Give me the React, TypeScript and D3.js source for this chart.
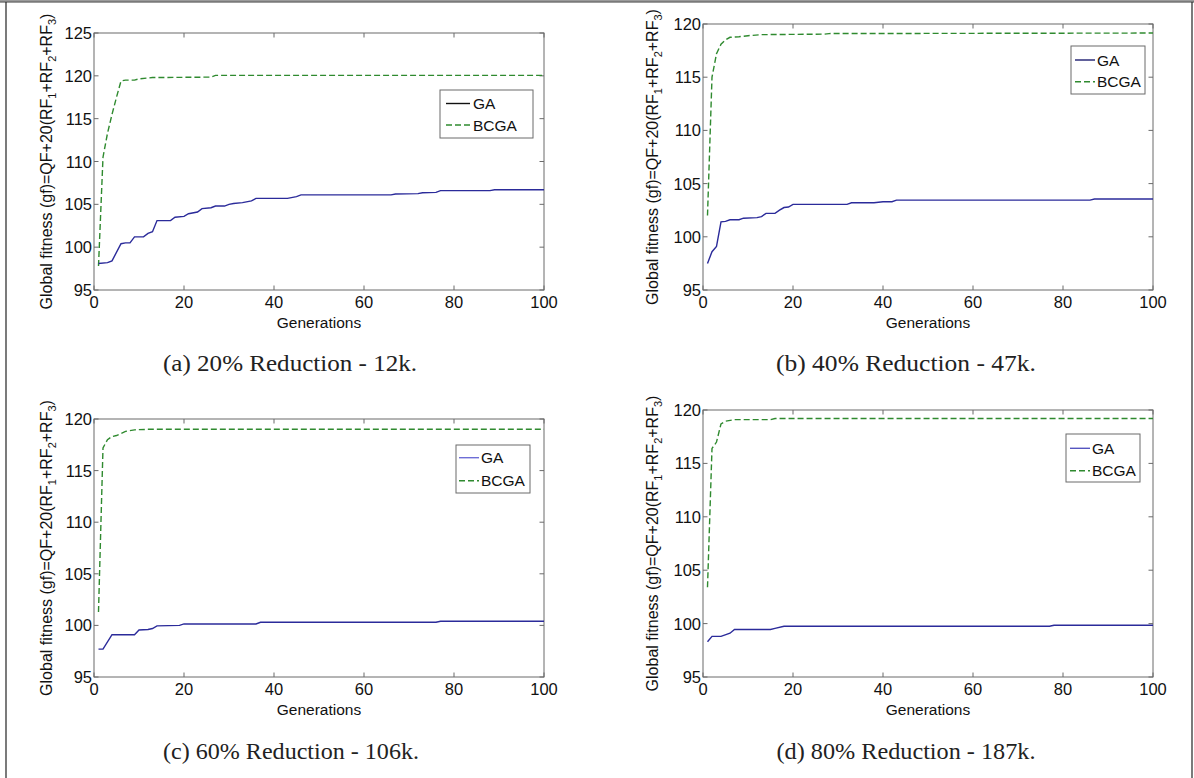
import React from "react";
import * as d3 from "d3";

// Generation axis and fitness axis ticks
const GENERATION_TICKS = [0, 20, 40, 60, 80, 100];
const FITNESS_TICKS_WIDE = [95, 100, 105, 110, 115, 120, 125];
const FITNESS_TICKS = [95, 100, 105, 110, 115, 120];

// Best global fitness per generation: [generation, fitness]
const GA_20 = [[1, 98.1], [3, 98.2], [4, 98.4], [6, 100.4], [7, 100.5], [8, 100.5], [9, 101.2], [11, 101.2], [12, 101.6], [13, 101.8], [14, 103.1], [17, 103.1], [18, 103.5], [20, 103.6], [21, 103.9], [23, 104.1], [24, 104.5], [26, 104.6], [27, 104.8], [29, 104.8], [30, 105.0], [31, 105.1], [33, 105.2], [35, 105.4], [36, 105.7], [43, 105.7], [45, 105.9], [46, 106.1], [66, 106.1], [67, 106.2], [72, 106.25], [73, 106.35], [76, 106.4], [77, 106.6], [88, 106.6], [89, 106.7], [100, 106.7]];
const BCGA_20 = [[1, 97.8], [2, 110.5], [3, 113.3], [4, 115.5], [5, 117.5], [6, 119.4], [7, 119.5], [9, 119.5], [10, 119.65], [12, 119.75], [13, 119.8], [26, 119.85], [27, 120.05], [100, 120.05]];

const GA_40 = [[1, 97.5], [2, 98.6], [3, 99.1], [4, 101.4], [5, 101.45], [6, 101.6], [8, 101.6], [9, 101.75], [12, 101.8], [13, 101.9], [14, 102.2], [16, 102.2], [17, 102.5], [18, 102.75], [19, 102.8], [20, 103.05], [32, 103.05], [33, 103.2], [38, 103.2], [40, 103.3], [42, 103.3], [43, 103.45], [86, 103.45], [87, 103.55], [100, 103.55]];
const BCGA_40 = [[1, 102.0], [2, 115.0], [3, 117.2], [4, 118.1], [5, 118.5], [6, 118.75], [8, 118.8], [10, 118.9], [13, 119.0], [27, 119.05], [28, 119.1], [100, 119.15]];

const GA_60 = [[1, 97.7], [2, 97.7], [4, 99.1], [9, 99.1], [10, 99.55], [12, 99.6], [13, 99.7], [14, 99.95], [19, 100.0], [20, 100.14], [36, 100.14], [37, 100.3], [76, 100.3], [77, 100.4], [100, 100.4]];
const BCGA_60 = [[1, 101.3], [2, 117.2], [3, 118.0], [4, 118.3], [5, 118.4], [6, 118.6], [7, 118.8], [9, 118.95], [12, 119.0], [100, 119.0]];

const GA_80 = [[1, 98.3], [2, 98.8], [4, 98.8], [6, 99.1], [7, 99.45], [15, 99.45], [16, 99.55], [18, 99.75], [77, 99.75], [78, 99.85], [100, 99.85]];
const BCGA_80 = [[1, 103.4], [2, 116.4], [3, 117.0], [4, 118.7], [5, 118.95], [7, 119.1], [15, 119.1], [16, 119.2], [100, 119.2]];

const SERIES_NAMES = ["GA", "BCGA"];
const CAPTIONS = [
  "(a) 20% Reduction - 12k.",
  "(b) 40% Reduction - 47k.",
  "(c) 60% Reduction - 106k.",
  "(d) 80% Reduction - 187k.",
];

const GA_COLOR = "#2b2b9a";
const BCGA_COLOR = "#2f8a2f";
const AXIS_COLOR = "#6b6b6b";
const SANS = "Liberation Sans, Arial, sans-serif";
const SERIF = "Liberation Serif, Times New Roman, serif";

type Pt = number[];

interface PanelSpec {
  x0: number; x1: number; y0: number; y1: number;
  yTicks: number[];
  ga: Pt[]; bcga: Pt[];
  ylabX: number;
  legend: { x: number; y: number; w: number; h: number; lineX0: number; lineX1: number; textX: number; gaY: number; bcgaY: number; gaKey: string };
  caption: string; capX: number; capY: number; capW: number;
  xlabY: number;
}

const PANELS: PanelSpec[] = [
  {
    x0: 94, x1: 544, y0: 33, y1: 290, yTicks: FITNESS_TICKS_WIDE, ga: GA_20, bcga: BCGA_20, ylabX: 47,
    legend: { x: 440, y: 90, w: 93, h: 48, lineX0: 446, lineX1: 470, textX: 473, gaY: 103.5, bcgaY: 125, gaKey: "#111" },
    caption: CAPTIONS[0], capX: 290, capY: 371, capW: 254, xlabY: 328,
  },
  {
    x0: 703, x1: 1153, y0: 24, y1: 290, yTicks: FITNESS_TICKS, ga: GA_40, bcga: BCGA_40, ylabX: 653,
    legend: { x: 1071, y: 46, w: 74, h: 48, lineX0: 1075, lineX1: 1095, textX: 1097, gaY: 60, bcgaY: 81.7, gaKey: "#1d1d70" },
    caption: CAPTIONS[1], capX: 906, capY: 371, capW: 260, xlabY: 328,
  },
  {
    x0: 94, x1: 544, y0: 419, y1: 677, yTicks: FITNESS_TICKS, ga: GA_60, bcga: BCGA_60, ylabX: 47,
    legend: { x: 456, y: 445, w: 74, h: 48, lineX0: 459, lineX1: 479, textX: 481, gaY: 457.7, bcgaY: 480.7, gaKey: "#6e6ed6" },
    caption: CAPTIONS[2], capX: 291, capY: 759, capW: 256, xlabY: 715,
  },
  {
    x0: 703, x1: 1153, y0: 410, y1: 677, yTicks: FITNESS_TICKS, ga: GA_80, bcga: BCGA_80, ylabX: 653,
    legend: { x: 1066, y: 434, w: 74, h: 48, lineX0: 1070, lineX1: 1090, textX: 1092, gaY: 448.3, bcgaY: 470.7, gaKey: "#5555c0" },
    caption: CAPTIONS[3], capX: 906, capY: 759, capW: 259, xlabY: 715,
  },
];

function Panel({ p }: { p: PanelSpec }) {
  const x = d3.scaleLinear().domain([0, 100]).range([p.x0, p.x1]);
  const y = d3.scaleLinear().domain([95, p.yTicks[p.yTicks.length - 1]]).range([p.y1, p.y0]);
  const line = d3.line<Pt>().x((d) => x(d[0])).y((d) => y(d[1]));
  const tick = 4.5;
  const cy = (p.y0 + p.y1) / 2;
  const lg = p.legend;
  return (
    <g>
      <rect x={p.x0} y={p.y0} width={p.x1 - p.x0} height={p.y1 - p.y0} fill="#fff" stroke={AXIS_COLOR} strokeWidth={1} />
      {GENERATION_TICKS.map((t) => (
        <g key={"x" + t}>
          <line x1={x(t)} x2={x(t)} y1={p.y1} y2={p.y1 - tick} stroke={AXIS_COLOR} />
          <line x1={x(t)} x2={x(t)} y1={p.y0} y2={p.y0 + tick} stroke={AXIS_COLOR} />
          <text x={x(t)} y={p.y1 + 18} textAnchor="middle" fontFamily={SANS} fontSize={16.5} fill="#111">{t}</text>
        </g>
      ))}
      {p.yTicks.map((t) => (
        <g key={"y" + t}>
          <line x1={p.x0} x2={p.x0 + tick} y1={y(t)} y2={y(t)} stroke={AXIS_COLOR} />
          <line x1={p.x1} x2={p.x1 - tick} y1={y(t)} y2={y(t)} stroke={AXIS_COLOR} />
          <text x={p.x0 - 2} y={y(t) + 6} textAnchor="end" fontFamily={SANS} fontSize={16.5} fill="#111">{t}</text>
        </g>
      ))}
      <path d={line(p.bcga) || ""} fill="none" stroke={BCGA_COLOR} strokeWidth={1.4} strokeDasharray="6,3" />
      <path d={line(p.ga) || ""} fill="none" stroke={GA_COLOR} strokeWidth={1.4} />
      <text x={(p.x0 + p.x1) / 2} y={p.xlabY} textAnchor="middle" fontFamily={SANS} fontSize={15.5} fill="#111">Generations</text>
      <text transform={`translate(${p.ylabX + 5},${cy}) rotate(-90)`} textAnchor="middle" fontFamily={SANS} fontSize={16} fill="#111">
        Global fitness (gf)=QF+20(RF<tspan dy={4} fontSize={11}>1</tspan><tspan dy={-4}>+RF</tspan><tspan dy={4} fontSize={11}>2</tspan><tspan dy={-4}>+RF</tspan><tspan dy={4} fontSize={11}>3</tspan><tspan dy={-4}>)</tspan>
      </text>
      <rect x={lg.x} y={lg.y} width={lg.w} height={lg.h} fill="#fff" stroke={AXIS_COLOR} strokeWidth={1} />
      <line x1={lg.lineX0} x2={lg.lineX1} y1={lg.gaY} y2={lg.gaY} stroke={lg.gaKey} strokeWidth={1.4} />
      <line x1={lg.lineX0} x2={lg.lineX1} y1={lg.bcgaY} y2={lg.bcgaY} stroke={BCGA_COLOR} strokeWidth={1.4} strokeDasharray="6,3" />
      <text x={lg.textX} y={lg.gaY + 5.5} fontFamily={SANS} fontSize={15.5} fill="#111">{SERIES_NAMES[0]}</text>
      <text x={lg.textX} y={lg.bcgaY + 5.5} fontFamily={SANS} fontSize={15.5} fill="#111">{SERIES_NAMES[1]}</text>
      <text x={p.capX} y={p.capY} textAnchor="middle" fontFamily={SERIF} fontSize={24} fill="#222" textLength={p.capW} lengthAdjust="spacingAndGlyphs">{p.caption}</text>
    </g>
  );
}

export default function App() {
  return (
    <svg width={1194} height={778} style={{ position: "absolute", left: 0, top: 0, background: "#fff" }}>
      <rect x={0} y={0} width={1194} height={778} fill="#fff" />
      <line x1={0} x2={1194} y1={1.5} y2={1.5} stroke="#7a7a7a" strokeWidth={2.5} />
      <line x1={6} x2={6} y1={2} y2={778} stroke="#222" strokeWidth={1.2} />
      <line x1={1192} x2={1192} y1={2} y2={778} stroke="#222" strokeWidth={1.2} />
      {PANELS.map((p, i) => <Panel key={i} p={p} />)}
    </svg>
  );
}
